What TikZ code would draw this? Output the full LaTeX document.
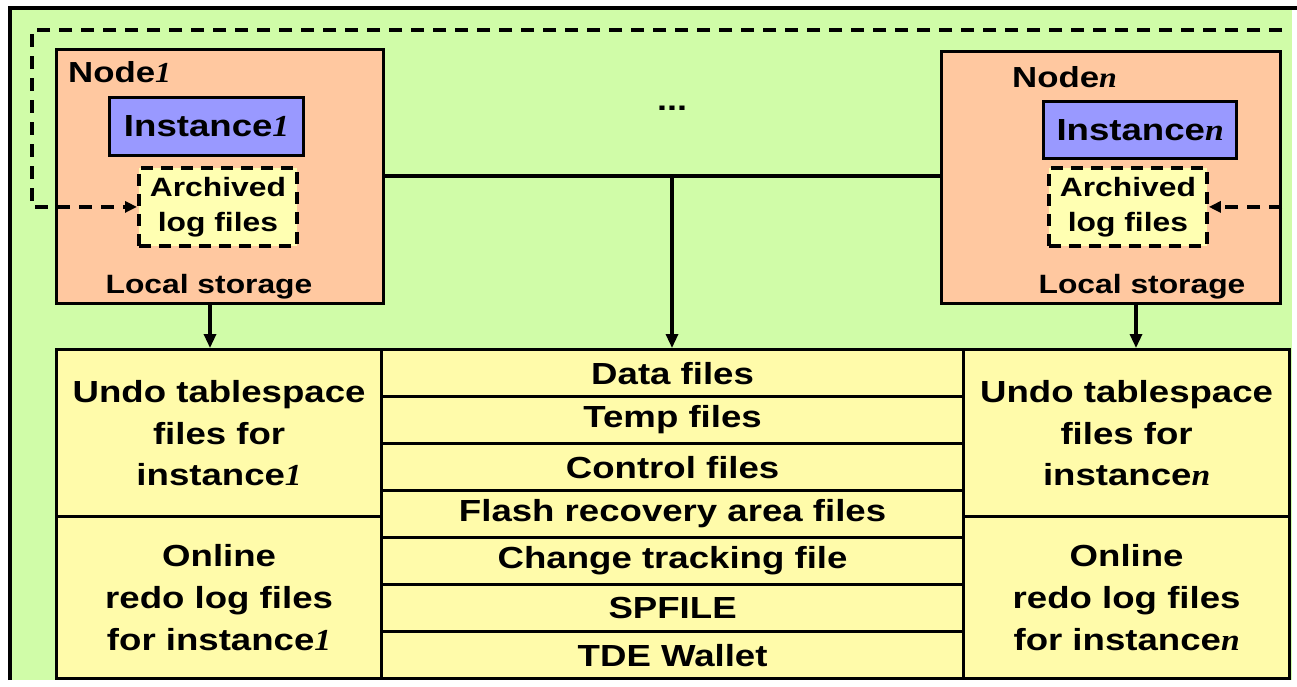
\documentclass[tikz,border=0pt]{standalone}
\usepackage{fontspec}
\setmainfont{Liberation Sans}[FakeStretch=1.2]
\newfontfamily\ser{Liberation Serif}[FakeStretch=1.1]
\usetikzlibrary{arrows.meta}
\definecolor{bggreen}{RGB}{208,252,168}
\definecolor{peach}{RGB}{255,200,160}
\definecolor{inst}{RGB}{153,153,255}
\definecolor{cellyel}{RGB}{255,251,170}
\definecolor{archyel}{RGB}{255,255,178}
\begin{document}
\begin{tikzpicture}[x=1pt,y=-1pt,
 box/.style={draw=black, line width=3.2pt, inner sep=0pt, anchor=north west},
 nodebox/.style={box, fill=peach},
 instbox/.style={box, fill=inst, font=\fontsize{30.5}{36}\selectfont\bfseries},
 archbox/.style={box, fill=archyel, line width=3.8pt, dash pattern=on 12pt off 8pt, align=center, font=\fontsize{26.5}{35}\selectfont\bfseries},
 cell/.style={box, fill=cellyel, align=center, font=\fontsize{30.5}{41.7}\selectfont\bfseries},
 lbl/.style={inner sep=0pt, font=\fontsize{29}{34}\selectfont\bfseries},
 loc/.style={inner sep=0pt, font=\fontsize{26.5}{32}\selectfont\bfseries},
 conn/.style={line width=3.2pt},
 arr/.style={conn, -{Triangle[length=14pt,width=12pt]}},
 darr/.style={line width=3.8pt, dash pattern=on 13pt off 9pt, -{Triangle[length=12pt,width=11pt]}},
]
\useasboundingbox[fill=white] (0,0) rectangle (1297,686);
% outer green area
\fill[bggreen] (10,8) rectangle (1292,680);
\draw[line width=3.2pt] (10,680) -- (10,8) -- (1297,8);

% nodes
\node[nodebox, minimum width=327pt, minimum height=254pt] (node1) at (55,48) {};
\node[nodebox, minimum width=339pt, minimum height=252pt] (noden) at (940,50) {};
\node[instbox, minimum width=194pt, minimum height=58pt] (inst1) at (108,96) {Instance{\ser\itshape 1}};
\node[instbox, minimum width=193pt, minimum height=57pt] (instn) at (1042,100) {Instance{\ser\itshape n}};
\node[archbox, minimum width=158pt, minimum height=78pt] (arch1) at (137,166) {Archived\\log files};
\node[archbox, minimum width=158pt, minimum height=78pt] (archn) at (1047,166) {Archived\\log files};
\node[lbl, anchor=base west] (n1lbl) at (68,82) {Node{\ser\itshape 1}};
\node[lbl, anchor=base west] (nnlbl) at (1012,87) {Node{\ser\itshape n}};
\node[loc, anchor=base] (ls1) at (209,293) {Local storage};
\node[loc, anchor=base] (lsn) at (1142,293) {Local storage};
\node[inner sep=0pt, font=\fontsize{30}{34}\selectfont\bfseries] (dots) at (672,108) {...};

% table
\node[cell, minimum width=325pt, minimum height=167pt] (undo1) at (55,348) {Undo tablespace\\files for\\instance{\ser\itshape 1}};
\node[cell, minimum width=325pt, minimum height=162pt] (redo1) at (55,515) {Online\\redo log files\\for instance{\ser\itshape 1}};
\node[cell, minimum width=326pt, minimum height=167pt] (undon) at (962,348) {Undo tablespace\\files for\\instance{\ser\itshape n}};
\node[cell, minimum width=326pt, minimum height=162pt] (redon) at (962,515) {Online\\redo log files\\for instance{\ser\itshape n}};
\node[cell, minimum width=582pt, minimum height=47pt] (data) at (380,348) {Data files};
\node[cell, minimum width=582pt, minimum height=47pt] (temp) at (380,395) {Temp files};
\node[cell, minimum width=582pt, minimum height=47pt] (ctrl) at (380,442) {Control files};
\node[cell, minimum width=582pt, minimum height=47pt] (flash) at (380,489) {Flash recovery area files};
\node[cell, minimum width=582pt, minimum height=47pt] (chg) at (380,536) {Change tracking file};
\node[cell, minimum width=582pt, minimum height=47pt] (spf) at (380,583) {SPFILE};
\node[cell, minimum width=582pt, minimum height=47pt] (tde) at (380,630) {TDE Wallet};

% connectors
\coordinate (hub) at (672,176);
\draw[conn] (node1.east |- hub) -- (noden.west |- hub);
\draw[arr] (hub) -- (hub |- data.north);
\coordinate (a1) at (210,302);
\coordinate (an) at (1136,302);
\draw[arr] (a1) -- (a1 |- undo1.north);
\draw[arr] (an) -- (an |- undon.north);

% dashed archiving paths
\coordinate (dtr) at (1282,30);
\coordinate (dtl) at (32,30);
\draw[darr] (dtr) -- (dtl) -- (dtl |- arch1.west) -- (arch1.west);
\draw[darr] (noden.east |- archn.east) -- (archn.east);
\end{tikzpicture}
\end{document}
